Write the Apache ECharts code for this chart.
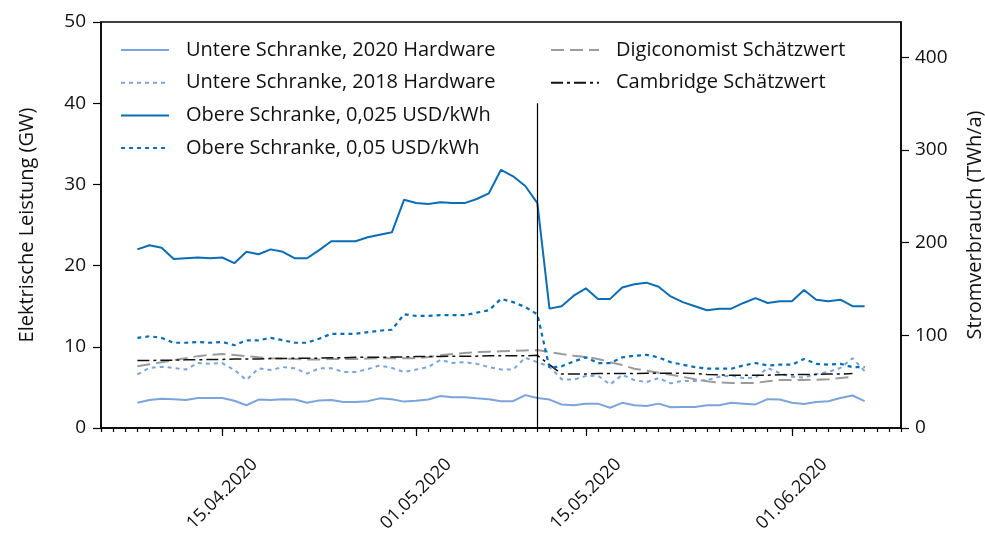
<!DOCTYPE html>
<html>
<head>
<meta charset="utf-8">
<script src="https://cdn.jsdelivr.net/npm/echarts@6/dist/echarts.min.js"></script>
<style>
  html, body { margin: 0; padding: 0; background: #fff; }
  #chart { width: 985px; height: 536px; }
</style>
</head>
<body>
<div id="chart"></div>
<script>
// x axis runs 05.04.2020 .. 10.06.2020, data 08.04.2020 .. 07.06.2020 (daily)
const axisStart = new Date(2020, 3, 5);
const axisDays = 67;
const dataStartLabel = '08.04.2020';
const majorLabels = ['15.04.2020', '01.05.2020', '15.05.2020', '01.06.2020'];
const halvingDate = '11.05.2020';

// GW
const untere2020 = [3.1, 3.45, 3.6, 3.55, 3.45, 3.7, 3.7, 3.7, 3.35, 2.8, 3.5, 3.45, 3.55, 3.5, 3.1, 3.4, 3.45, 3.2, 3.2, 3.3,
  3.65, 3.55, 3.25, 3.35, 3.5, 3.95, 3.8, 3.8, 3.65, 3.55, 3.3, 3.3, 4.05, 3.7, 3.5, 2.9, 2.8, 3.0, 3.0, 2.5,
  3.1, 2.8, 2.7, 3.0, 2.55, 2.6, 2.6, 2.8, 2.8, 3.1, 3.0, 2.9, 3.55, 3.5, 3.1, 2.95, 3.2, 3.3, 3.7, 4.0, 3.3];
const untere2018 = [6.6, 7.4, 7.55, 7.4, 7.2, 8.0, 7.9, 8.0, 7.15, 5.9, 7.35, 7.15, 7.5, 7.35, 6.7, 7.35, 7.35, 6.9, 6.9, 7.25,
  7.7, 7.4, 6.9, 7.2, 7.5, 8.4, 8.0, 8.1, 7.9, 7.5, 7.2, 7.2, 8.65, 8.1, 7.55, 6.0, 5.95, 6.4, 6.45, 5.35,
  6.55, 5.9, 5.65, 6.15, 5.5, 5.8, 5.8, 5.9, 6.3, 6.45, 6.15, 6.2, 7.4, 6.75, 6.3, 6.2, 6.65, 6.9, 7.4, 8.6, 7.0];
const obere025 = [22.0, 22.5, 22.2, 20.8, 20.9, 21.0, 20.9, 21.0, 20.3, 21.7, 21.4, 22.0, 21.7, 20.9, 20.9, 21.9, 23.0, 23.0, 23.0, 23.5,
  23.8, 24.1, 28.1, 27.7, 27.6, 27.8, 27.7, 27.7, 28.2, 28.9, 31.8, 31.0, 29.8, 27.7, 14.7, 15.0, 16.3, 17.2, 15.9, 15.9,
  17.3, 17.7, 17.9, 17.4, 16.2, 15.5, 15.0, 14.5, 14.7, 14.7, 15.4, 16.0, 15.4, 15.6, 15.6, 17.0, 15.8, 15.6, 15.8, 15.0, 15.0];
const obere05 = [11.1, 11.3, 11.1, 10.5, 10.5, 10.6, 10.5, 10.6, 10.2, 10.8, 10.8, 11.1, 10.8, 10.5, 10.5, 11.0, 11.6, 11.6, 11.6, 11.8,
  12.0, 12.1, 14.0, 13.8, 13.8, 13.9, 13.9, 13.9, 14.2, 14.5, 15.9, 15.5, 14.9, 14.0, 7.4, 7.6, 8.2, 8.7, 8.0, 8.0,
  8.7, 8.9, 9.0, 8.7, 8.1, 7.8, 7.5, 7.3, 7.3, 7.3, 7.7, 8.0, 7.7, 7.8, 7.8, 8.5, 7.9, 7.8, 7.9, 7.5, 7.5];
const digiconomist = [7.6, 7.85, 8.1, 8.35, 8.6, 8.85, 9.0, 9.1, 9.0, 8.85, 8.7, 8.6, 8.55, 8.5, 8.45, 8.45, 8.5, 8.5, 8.5, 8.55,
  8.6, 8.6, 8.6, 8.6, 8.75, 8.95, 9.1, 9.25, 9.35, 9.4, 9.45, 9.5, 9.55, 9.6, 9.35, 9.1, 8.9, 8.75, 8.5, 8.1,
  7.75, 7.3, 7.05, 6.8, 6.55, 6.3, 6.0, 5.75, 5.6, 5.55, 5.55, 5.55, 5.75, 5.9, 5.9, 5.9, 5.95, 6.0, 6.15, 6.3, null];
const cambridge = [8.3, 8.3, 8.35, 8.35, 8.4, 8.4, 8.45, 8.45, 8.5, 8.5, 8.5, 8.55, 8.55, 8.6, 8.6, 8.6, 8.65, 8.65, 8.7, 8.7,
  8.7, 8.75, 8.75, 8.8, 8.8, 8.8, 8.85, 8.85, 8.85, 8.9, 8.9, 8.9, 8.9, 8.95, 7.8, 6.65, 6.65, 6.65, 6.7, 6.7,
  6.7, 6.7, 6.75, 6.75, 6.75, 6.75, 6.7, 6.6, 6.55, 6.5, 6.5, 6.5, 6.5, 6.55, 6.55, 6.6, 6.6, 6.65, 6.65, 6.7, null];

const dates = [];
for (let i = 0; i < axisDays; i++) {
  const d = new Date(axisStart.getTime());
  d.setDate(d.getDate() + i);
  const dd = String(d.getDate()).padStart(2, '0');
  const mm = String(d.getMonth() + 1).padStart(2, '0');
  dates.push(dd + '.' + mm + '.' + d.getFullYear());
}
const offset = dates.indexOf(dataStartLabel);
const toPairs = vals => vals.map((v, i) => [dates[offset + i], v]);

const darkBlue = '#0b6db5';
const lightBlue = '#7ca4dc';
const grey = '#9b9b9b';
const font = 'Open Sans';

const chart = echarts.init(document.getElementById('chart'));

const mkLine = (name, vals, color, width, type) => ({
  name: name,
  type: 'line',
  data: toPairs(vals),
  symbol: 'none',
  showSymbol: false,
  connectNulls: false,
  lineStyle: { color: color, width: width, type: type },
  itemStyle: { color: color },
  emphasis: { disabled: true }
});

const s025 = mkLine('Obere Schranke, 0,025 USD/kWh', obere025, darkBlue, 2, 'solid');
s025.markLine = {
  silent: true,
  symbol: 'none',
  label: { show: false },
  lineStyle: { color: '#000', width: 1.2, type: 'solid' },
  data: [[{ coord: [halvingDate, 0] }, { coord: [halvingDate, 40] }]]
};

const legendText = { fontSize: 20, lineHeight: 20, color: '#111', fontFamily: font, padding: [0, 0, 0, 12] };

chart.setOption({
  animation: false,
  textStyle: { fontFamily: font },
  grid: {
    left: 101, right: 84, top: 22, bottom: 108,
    outerBoundsMode: 'none',
    show: true, borderColor: '#000', borderWidth: 1.5, backgroundColor: 'transparent'
  },
  legend: [
    {
      orient: 'vertical', left: 120, top: 40, padding: 0,
      itemWidth: 48, itemHeight: 14, itemGap: 12.7,
      itemStyle: { opacity: 0 },
      textStyle: legendText,
      data: ['Untere Schranke, 2020 Hardware', 'Untere Schranke, 2018 Hardware',
        'Obere Schranke, 0,025 USD/kWh', 'Obere Schranke, 0,05 USD/kWh']
    },
    {
      orient: 'vertical', left: 550, top: 40, padding: 0,
      itemWidth: 48, itemHeight: 14, itemGap: 12.7,
      itemStyle: { opacity: 0 },
      textStyle: legendText,
      data: ['Digiconomist Schätzwert', 'Cambridge Schätzwert']
    }
  ],
  xAxis: [
    {
      type: 'category', data: dates, boundaryGap: false, position: 'bottom',
      axisLine: { lineStyle: { color: '#000', width: 1.5 } },
      axisTick: { show: true, interval: 0, length: 4, lineStyle: { color: '#000', width: 1.2 } },
      axisLabel: { show: false },
      splitLine: { show: false }
    },
    {
      type: 'category', data: dates, boundaryGap: false, position: 'bottom',
      axisLine: { show: false },
      axisTick: { show: true, length: 8, lineStyle: { color: '#000', width: 1.2 },
        interval: (idx, val) => majorLabels.includes(val) },
      axisLabel: {
        show: true, rotate: 45, align: 'center', verticalAlign: 'middle', margin: 66,
        fontSize: 18, color: '#111', fontFamily: font,
        interval: (idx, val) => majorLabels.includes(val)
      },
      splitLine: { show: false }
    }
  ],
  yAxis: [
    {
      type: 'value', min: 0, max: 50, interval: 10, position: 'left',
      name: 'Elektrische Leistung (GW)', nameLocation: 'middle', nameGap: 64,
      nameTextStyle: { fontSize: 20, color: '#111', fontFamily: font },
      axisLine: { show: true, lineStyle: { color: '#000', width: 1.5 } },
      axisTick: { show: true, length: 8, lineStyle: { color: '#000', width: 1.2 } },
      axisLabel: { fontSize: 19, color: '#111', margin: 15, fontFamily: font },
      splitLine: { show: false }
    },
    {
      type: 'value', min: 0, max: 438, position: 'right',
      name: 'Stromverbrauch (TWh/a)', nameLocation: 'middle', nameGap: 64,
      nameTextStyle: { fontSize: 20, color: '#111', fontFamily: font },
      axisLine: { show: true, lineStyle: { color: '#000', width: 1.5 } },
      axisTick: { show: true, length: 8, lineStyle: { color: '#000', width: 1.2 },
        customValues: [0, 100, 200, 300, 400] },
      axisLabel: { fontSize: 19, color: '#111', margin: 14, fontFamily: font,
        customValues: [0, 100, 200, 300, 400] },
      splitLine: { show: false }
    }
  ],
  series: [
    mkLine('Untere Schranke, 2020 Hardware', untere2020, lightBlue, 2, 'solid'),
    mkLine('Untere Schranke, 2018 Hardware', untere2018, lightBlue, 2, [4, 4]),
    mkLine('Digiconomist Schätzwert', digiconomist, grey, 2, [13, 6]),
    mkLine('Cambridge Schätzwert', cambridge, '#111', 1.5, [12, 4, 3, 4]),
    s025,
    mkLine('Obere Schranke, 0,05 USD/kWh', obere05, darkBlue, 2.2, [4, 4])
  ]
});
</script>
</body>
</html>
